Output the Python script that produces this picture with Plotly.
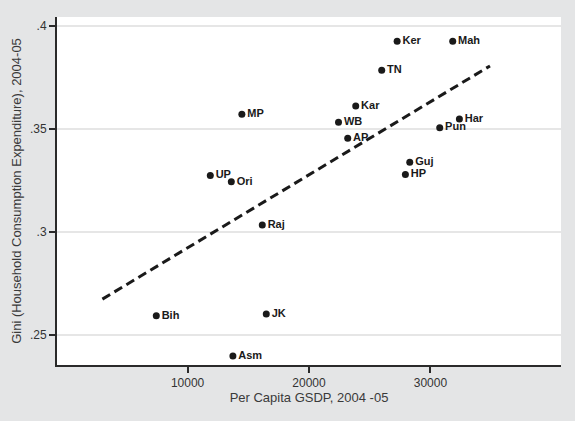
import plotly.graph_objects as go

states = ["Ker", "Mah", "TN", "Kar", "WB", "AP", "Har", "Pun", "Guj", "HP",
          "MP", "UP", "Ori", "Raj", "Bih", "JK", "Asm"]
gsdp = [27260, 31840, 25990, 23850, 22430, 23190, 32390, 30770, 28300, 27940,
        14470, 11870, 13600, 16150, 7420, 16480, 13730]
gini = [0.3926, 0.3926, 0.3785, 0.3611, 0.3532, 0.3454, 0.3548, 0.3506, 0.3338, 0.3279,
        0.3571, 0.3273, 0.3243, 0.3033, 0.2592, 0.2600, 0.2396]

fit_x = [2980, 34910]
fit_y = [0.2673, 0.3806]

y_ticks = [0.25, 0.30, 0.35, 0.40]
y_ticklabels = [".25", ".3", ".35", ".4"]
x_ticks = [10000, 20000, 30000]
x_ticklabels = ["10000", "20000", "30000"]

fig = go.Figure()
fig.add_trace(go.Scatter(
    x=gsdp, y=gini, mode="markers+text", text=states,
    textposition="middle right",
    marker=dict(color="#1a1a1a", size=7),
    textfont=dict(family="Liberation Sans", size=11, color="#1a1a1a", weight="bold"),
    showlegend=False, cliponaxis=False,
))
fig.add_trace(go.Scatter(
    x=fit_x, y=fit_y, mode="lines",
    line=dict(color="#1a1a1a", width=3, dash="9px,5px"),
    showlegend=False,
))

fig.update_layout(
    width=575, height=421,
    margin=dict(l=57, r=14, t=17, b=56),
    paper_bgcolor="#e4e5e6",
    plot_bgcolor="#ffffff",
    font=dict(family="Liberation Sans", size=12, color="#333333"),
    xaxis=dict(
        range=[-760, 40760], tickvals=x_ticks, ticktext=x_ticklabels,
        showgrid=False, zeroline=False,
        showline=True, linecolor="#2a2a2a", linewidth=2,
        ticks="outside", ticklen=6, tickwidth=1.5, tickcolor="#2a2a2a",
        title=dict(text="Per Capita GSDP, 2004 -05", standoff=1,
                   font=dict(size=13, color="#3a3a3a")),
        tickfont=dict(size=12, color="#333333"),
    ),
    yaxis=dict(
        range=[0.23528, 0.40437], tickvals=y_ticks, ticktext=y_ticklabels,
        showgrid=True, gridcolor="#e6e6e6", gridwidth=1.5, zeroline=False,
        showline=True, linecolor="#2a2a2a", linewidth=2,
        ticks="outside", ticklen=6, tickwidth=1.5, tickcolor="#2a2a2a",
        title=dict(text="Gini (Household Consumption Expenditure), 2004-05", standoff=5,
                   font=dict(size=13, color="#3a3a3a")),
        tickfont=dict(size=12, color="#333333"),
    ),
)

fig.write_html("out.html")
